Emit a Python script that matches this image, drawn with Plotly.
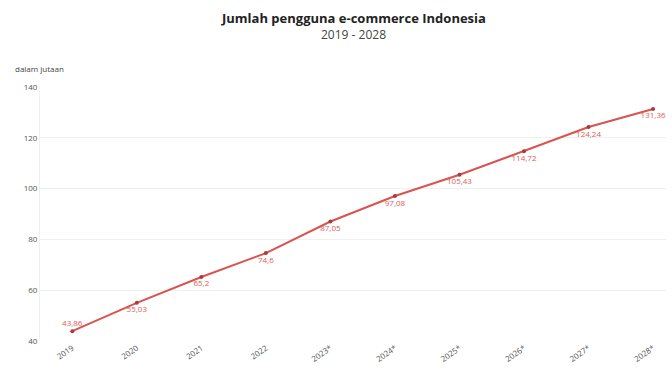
import plotly.graph_objects as go

years = ["2019", "2020", "2021", "2022", "2023*", "2024*", "2025*", "2026*", "2027*", "2028*"]
values = [43.86, 55.03, 65.2, 74.6, 87.05, 97.08, 105.43, 114.72, 124.24, 131.36]
value_labels = ["43,86", "55,03", "65,2", "74,6", "87,05", "97,08", "105,43", "114,72", "124,24", "131,36"]
y_ticks = [40, 60, 80, 100, 120, 140]

x_idx = list(range(len(years)))
positions = ["top center"] + ["bottom center"] * (len(years) - 1)

fig = go.Figure()
fig.add_trace(go.Scatter(
    x=x_idx, y=values,
    mode="lines+markers+text",
    line=dict(color="#d9534f", width=2),
    marker=dict(color="#a83a3a", size=4),
    text=value_labels,
    textposition=positions,
    textfont=dict(family="Open Sans, Noto Sans, sans-serif", size=8, color="#e05a55"),
    hoverinfo="skip",
    showlegend=False,
))

fig.update_layout(
    width=672, height=370,
    margin=dict(l=40, r=6, t=87, b=27),
    plot_bgcolor="white", paper_bgcolor="white",
    xaxis=dict(
        tickmode="array", tickvals=x_idx, ticktext=years,
        range=[-0.5, 9.2], showgrid=False, zeroline=False,
        tickangle=-35, tickfont=dict(family="Open Sans, sans-serif", size=8, color="#555"),
        showline=False,
    ),
    yaxis=dict(
        range=[40, 140], tickvals=y_ticks, showgrid=True, gridcolor="#f0f0f0",
        zeroline=False, showline=True, linecolor="#f0f0f0",
        tickfont=dict(family="Open Sans, sans-serif", size=8, color="#555"),
    ),
    annotations=[
        dict(text="<b>Jumlah pengguna e-commerce Indonesia</b>", xref="paper", yref="paper",
             x=0.5, y=1.27, xanchor="center", yanchor="middle", showarrow=False,
             font=dict(family="Open Sans, Noto Sans, sans-serif", size=13, color="#222")),
        dict(text="2019 - 2028", xref="paper", yref="paper",
             x=0.5, y=1.205, xanchor="center", yanchor="middle", showarrow=False,
             font=dict(family="Open Sans, Noto Sans, sans-serif", size=12, color="#444")),
        dict(text="dalam jutaan", xref="paper", yref="paper", x=-0.043, y=1.074,
             xanchor="left", yanchor="middle", showarrow=False,
             font=dict(family="Open Sans, sans-serif", size=8, color="#444")),
    ],
)

fig.write_html("out.html")
